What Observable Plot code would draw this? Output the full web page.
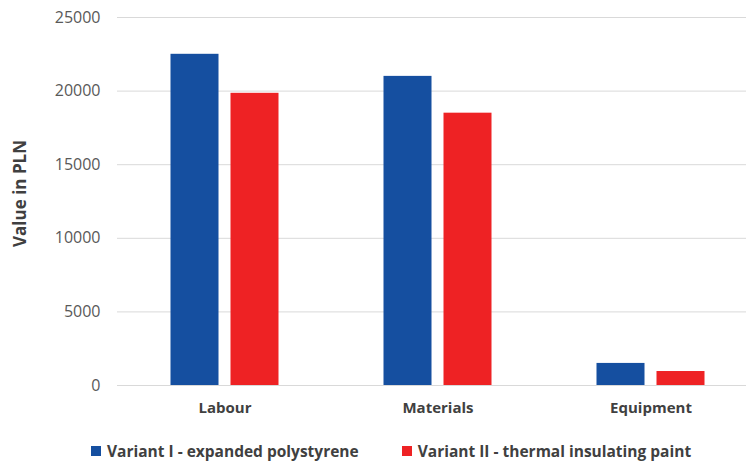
<!DOCTYPE html>
<html>
<head>
<meta charset="utf-8">
<script src="https://cdn.jsdelivr.net/npm/d3@7"></script>
<script src="https://cdn.jsdelivr.net/npm/@observablehq/plot@0.6"></script>
<style>
  html, body { margin: 0; padding: 0; background: #fff; }
  #chart { width: 746px; }
  .legend { display: flex; justify-content: flex-start; font-family: "Open Sans", sans-serif; font-weight: 700; font-size: 15.5px; color: #404040; padding-left: 91px; height: 30px; align-items: center; margin-top: 11px; }
  .legend .item { display: flex; align-items: center; margin-right: 43px; }
  .legend .sw { width: 10px; height: 10px; margin-right: 6px; display: inline-block; }
</style>
</head>
<body>
<div id="chart"></div>
<script>
const categories = ["Labour", "Materials", "Equipment"];
const seriesNames = ["Variant I - expanded polystyrene", "Variant II - thermal insulating paint"];
const variant1 = [22500, 21000, 1500];
const variant2 = [19850, 18500, 950];
const yTicks = [0, 5000, 10000, 15000, 20000, 25000];
const colors = ["#154FA0", "#EE2224"];

const d1 = categories.map((c, i) => ({category: c, series: seriesNames[0], value: variant1[i]}));
const d2 = categories.map((c, i) => ({category: c, series: seriesNames[1], value: variant2[i]}));

const plot = Plot.plot({
  width: 746,
  height: 425,
  marginLeft: 117,
  marginRight: 0,
  marginTop: 17,
  marginBottom: 40,
  style: {fontFamily: "'Open Sans', sans-serif", background: "#fff"},
  x: {domain: categories, range: [117.5, 756.5], padding: 0},
  y: {domain: [0, 25000]},
  color: {domain: seriesNames, range: colors},
  marks: [
    Plot.ruleY(yTicks, {stroke: "#d9d9d9", strokeWidth: 1}),
    Plot.barY(d1, {x: "category", y: "value", fill: "series", insetLeft: 52.5, insetRight: 112.5}),
    Plot.barY(d2, {x: "category", y: "value", fill: "series", insetLeft: 112.5, insetRight: 52.5}),
    Plot.axisY({ticks: yTicks, tickSize: 0, tickPadding: 17, tickFormat: d => String(d), fontSize: 16, fill: "#595959", label: null}),
    Plot.axisX({tickSize: 0, tickPadding: 17, fontSize: 15, fontWeight: "bold", fill: "#404040", label: null}),
    Plot.text(["Value in PLN"], {frameAnchor: "left", textAnchor: "middle", dx: -97, dy: -8, rotate: -90, fontSize: 17, fontWeight: "bold", fill: "#404040"})
  ]
});
document.getElementById("chart").appendChild(plot);

const legend = document.createElement("div");
legend.className = "legend";
seriesNames.forEach((name, i) => {
  const item = document.createElement("span");
  item.className = "item";
  const sw = document.createElement("span");
  sw.className = "sw";
  sw.style.background = colors[i];
  item.appendChild(sw);
  item.appendChild(document.createTextNode(name));
  legend.appendChild(item);
});
document.getElementById("chart").appendChild(legend);
</script>
</body>
</html>
